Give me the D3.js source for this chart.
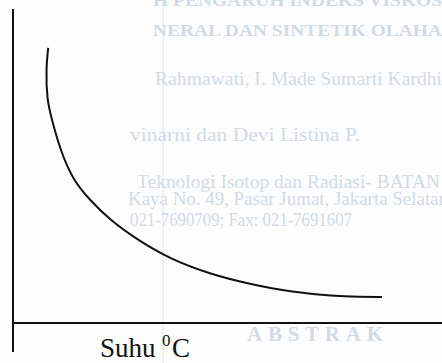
<!DOCTYPE html>
<html>
<head>
<meta charset="utf-8">
<script src="https://cdn.jsdelivr.net/npm/d3@7"></script>
<style>
  html, body { margin: 0; padding: 0; background: #fdfdfd; }
  svg { display: block; }
</style>
</head>
<body>
<div id="chart"></div>
<script>
// Curve (temperature vs. viscosity, arbitrary units)
const suhu = [8.2, 7.7, 7.9, 9.1, 11.0, 14.0, 17.9, 22.6, 29.1, 36.6, 45.9, 55.2, 64.6, 74.6, 80.9, 86.0];
const viskositas = [87.6, 81.2, 71.0, 64.6, 55.1, 45.5, 39.2, 32.8, 26.4, 20.4, 15.6, 12.4, 9.9, 8.6, 8.3, 8.3];

const xLabel = "Suhu";
const xUnitSup = "0";
const xUnit = "C";

// Faint text showing through from the other side of the page
const bleedTitle = ["H PENGARUH INDEKS VISKOS", "NERAL DAN SINTETIK OLAHA"];
const bleedBody = [
  "Rahmawati, I. Made Sumarti Kardhi,",
  "vinarni dan Devi Listina P.",
  "Teknologi Isotop dan Radiasi- BATAN",
  "Kaya No. 49, Pasar Jumat, Jakarta Selatan",
  "021-7690709; Fax: 021-7691607"
];
const bleedHeading = "ABSTRAK";

const width = 442, height = 363;

const svg = d3.select("#chart").append("svg")
    .attr("width", width)
    .attr("height", height);

// Page show-through
const bleed = svg.append("g").attr("fill", "#d3dae3");
bleed.append("line")
    .attr("x1", 163).attr("x2", 163).attr("y1", 0).attr("y2", height)
    .attr("stroke", "#e9edf1").attr("stroke-width", 1.5);
const titleY = [6, 36];
bleed.selectAll("text.t").data(bleedTitle).enter().append("text")
    .attr("class", "t")
    .attr("x", 153)
    .attr("y", (d, i) => titleY[i])
    .attr("font-family", "Liberation Serif, serif")
    .attr("font-weight", "bold")
    .attr("font-size", 17.5)
    .attr("textLength", 289)
    .attr("lengthAdjust", "spacingAndGlyphs")
    .text(d => d);
const bodyX = [155, 130, 137, 128, 130];
const bodyY = [85, 141, 188, 205, 226];
const bodyLen = [292, 230, 303, 320, 222];
bleed.selectAll("text.b").data(bleedBody).enter().append("text")
    .attr("class", "b")
    .attr("x", (d, i) => bodyX[i])
    .attr("y", (d, i) => bodyY[i])
    .attr("font-family", "Liberation Serif, serif")
    .attr("font-size", 19)
    .attr("textLength", (d, i) => bodyLen[i])
    .attr("lengthAdjust", "spacingAndGlyphs")
    .text(d => d);
bleed.append("text")
    .attr("x", 247).attr("y", 341)
    .attr("font-family", "Liberation Serif, serif")
    .attr("font-weight", "bold")
    .attr("font-size", 21)
    .attr("textLength", 136)
    .text(bleedHeading);

// Scales
const x = d3.scaleLinear().domain([0, 100]).range([13, 442]);
const y = d3.scaleLinear().domain([0, 100]).range([323, 9]);

const ink = "#111";

// Axes (plain lines, no ticks)
svg.append("line")
    .attr("x1", x(0)).attr("x2", x(0))
    .attr("y1", y(100)).attr("y2", y(-9.2))
    .attr("stroke", ink).attr("stroke-width", 2);
svg.append("line")
    .attr("x1", x(0)).attr("x2", x(100))
    .attr("y1", y(0)).attr("y2", y(0))
    .attr("stroke", ink).attr("stroke-width", 2);

// Curve
const pts = suhu.map((s, i) => [s, viskositas[i]]);
const line = d3.line()
    .x(d => x(d[0]))
    .y(d => y(d[1]))
    .curve(d3.curveBasis);
svg.append("path")
    .datum(pts)
    .attr("d", line)
    .attr("fill", "none")
    .attr("stroke", ink)
    .attr("stroke-width", 2);

// Axis label
const lab = svg.append("text")
    .attr("y", 357)
    .attr("font-family", "Liberation Serif, Times New Roman, serif")
    .attr("font-size", 27)
    .attr("fill", ink);
lab.append("tspan").attr("x", 100).text(xLabel);
lab.append("tspan").attr("x", 162).attr("font-size", 17).attr("dy", -11).text(xUnitSup);
lab.append("tspan").attr("x", 172).attr("dy", 11).text(xUnit);
</script>
</body>
</html>
